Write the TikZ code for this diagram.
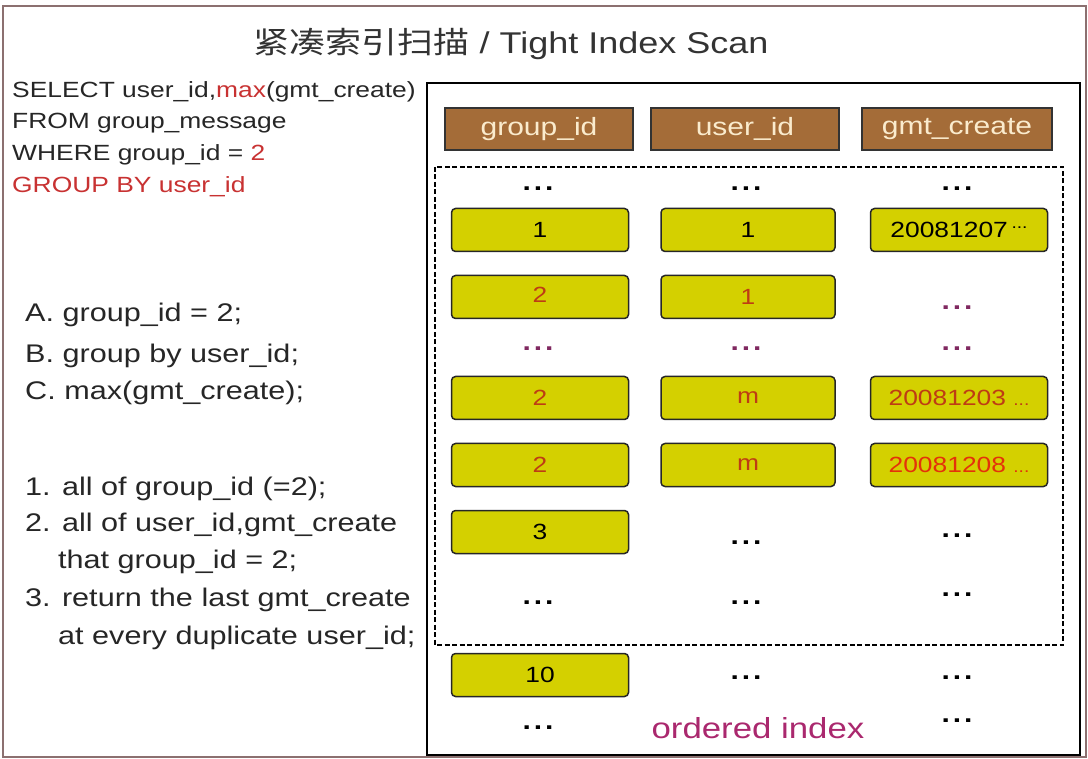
\documentclass[tikz,border=0pt]{standalone}
\usepackage{fontspec}
\setmainfont{Liberation Sans}[FakeStretch=1.2]
\newfontfamily\cjkfont{Noto Sans CJK SC}[FakeStretch=1.2]
\usepackage{tikz}
\usetikzlibrary{positioning}

\definecolor{framegray}{RGB}{140,112,112}
\definecolor{hdrbrown}{RGB}{164,108,56}
\definecolor{hdrtext}{RGB}{250,235,205}
\definecolor{cellyellow}{RGB}{212,208,0}
\definecolor{sqlred}{RGB}{200,50,50}
\definecolor{valred}{RGB}{190,60,20}
\definecolor{valorange}{RGB}{228,50,10}
\definecolor{dotpurple}{RGB}{128,40,96}
\definecolor{idxpurple}{RGB}{170,40,110}

\newcommand{\fs}[1]{\fontsize{#1}{#1}\selectfont}
\newcommand{\dts}{.\hspace{3pt}.\hspace{3pt}.}

\tikzset{
  hdr/.style={draw=black!80, line width=1.5pt, fill=hdrbrown, text=hdrtext,
    minimum width=188pt, minimum height=42pt, inner sep=0pt, font=\fs{25}},
  cell/.style={draw=black!85, line width=1.5pt, fill=cellyellow, rounded corners=4pt,
    minimum width=177pt, minimum height=43pt, inner sep=0pt, font=\fs{22}},
  dots/.style={anchor=base, inner sep=0pt, font=\bfseries\fs{25}},
  sql/.style={anchor=base west, inner sep=0pt, text=black!85, font=\fs{22}},
  note/.style={anchor=base west, inner sep=0pt, text=black!85, font=\fs{25.5}}
}

\begin{document}
\begin{tikzpicture}[x=1pt,y=-1pt]
    \useasboundingbox (0,0) rectangle (1088,759);
    \draw[framegray, line width=2pt] (3,6) rectangle (1086,757);
    \node (title) [anchor=base, text=black!80, font=\fs{30}] at (511,54) {{\cjkfont 紧凑索引扫描} / Tight Index Scan};

    % query and steps
    \node (q1) [sql] at (12,98) {SELECT user\_id,\textcolor{sqlred}{max}(gmt\_create)};
    \node (q2) [sql] at (12,129) {FROM group\_message};
    \node (q3) [sql] at (12,161) {WHERE group\_id = \textcolor{sqlred}{2}};
    \node (q4) [sql, text=sqlred] at (12,193) {GROUP BY user\_id};
    \node (sa) [note] at (25,322) {A. group\_id = 2;};
    \node (sb) [note] at (25,363) {B. group by user\_id;};
    \node (sc) [note] at (25,400) {C. max(gmt\_create);};
    \node (s1) [note] at (25,495) {1. all of group\_id (=2);};
    \node (s2) [note] at (25,531) {2. all of user\_id,gmt\_create};
    \node (s2b) [note] at (58,568) {that group\_id = 2;};
    \node (s3) [note] at (25,606) {3. return the last gmt\_create};
    \node (s3b) [note] at (58,644) {at every duplicate user\_id;};

    % index
    \draw[line width=1.5pt] (427,83) rectangle (1080,755);
    \draw[dash pattern=on 5pt off 2.5pt, line width=1.4pt] (435,167) rectangle (1063,645);
    \node (h1) [hdr] at (539,129) {group\_id};
    \node (h2) [hdr] at (745,129) {user\_id};
    \node (h3) [hdr, minimum width=190pt] at (957,129) {gmt\_create};

    \node (d01) [dots] at (538,191) {\dts};
    \node (d02) [dots] at (746,191) {\dts};
    \node (d03) [dots] at (957,191) {\dts};

    \node (c11) [cell] at (540,230) {1};
    \node (c12) [cell, minimum width=174pt] at (748,230) {1};
    \node (c13) [cell] at (959,230) {20081207\,\raisebox{0.4em}{\fs{16}...}};

    \node (c21) [cell, text=valred] at (540,297) {\raisebox{4pt}{2}};
    \node (c22) [cell, minimum width=174pt, text=valred] at (748,297) {\raisebox{-5pt}{1}};
    \node (d23) [dots, text=dotpurple] at (957,310) {\dts};

    \node (d31) [dots, text=dotpurple] at (538,351) {\dts};
    \node (d32) [dots, text=dotpurple] at (746,351) {\dts};
    \node (d33) [dots, text=dotpurple] at (957,351) {\dts};

    \node (c41) [cell, text=valred] at (540,398) {2};
    \node (c42) [cell, minimum width=174pt, text=valred] at (748,398) {m};
    \node (c43) [cell, text=valred] at (959,398) {20081203 {\fs{16}...}};

    \node (c51) [cell, text=valred] at (540,465) {2};
    \node (c52) [cell, minimum width=174pt, text=valred] at (748,465) {m};
    \node (c53) [cell, text=valorange] at (959,465) {20081208 {\fs{16}...}};

    \node (c61) [cell] at (540,532) {3};
    \node (d62) [dots] at (746,544) {\dts};
    \node (d63) [dots] at (957,537) {\dts};

    \node (d71) [dots] at (538,604) {\dts};
    \node (d72) [dots] at (746,604) {\dts};
    \node (d73) [dots] at (957,596) {\dts};

    \node (c81) [cell] at (540,675) {10};
    \node (d82) [dots] at (746,679) {\dts};
    \node (d83) [dots] at (957,679) {\dts};

    \node (d91) [dots] at (538,729) {\dts};
    \node (order) [anchor=base, inner sep=0pt, text=idxpurple, font=\fs{29}] at (758,738) {ordered index};
    \node (d93) [dots] at (957,722) {\dts};
\end{tikzpicture}
\end{document}
